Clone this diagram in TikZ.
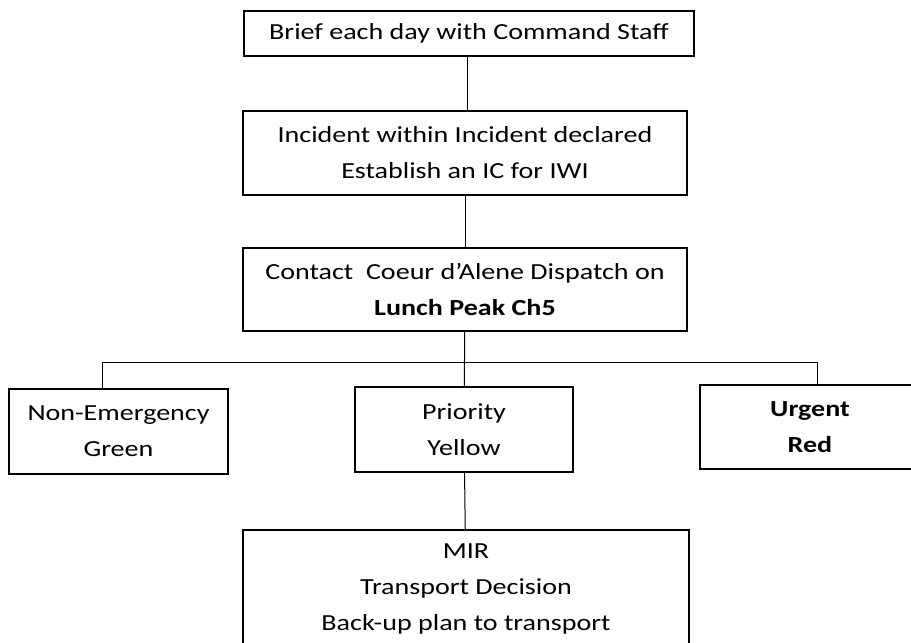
\documentclass[tikz,border=0pt]{standalone}
\usepackage{fontspec}
\setmainfont{Carlito}[FakeStretch=1.22]
\begin{document}
\begin{tikzpicture}[x=1pt,y=-1pt,
  box/.style={draw=black, line width=1.6pt, inner sep=0pt, align=center,
    font=\fontsize{23}{36}\selectfont},
  link/.style={draw=black, line width=1pt}]
\useasboundingbox[fill=white] (0,0) rectangle (911,643);
\node[box, minimum width=450pt, minimum height=45pt] (brief) at (469,33.5)
  {Brief each day with Command Staff};
\node[box, minimum width=444pt, minimum height=84pt] (iwi) at (465,153)
  {Incident within Incident declared\\Establish an IC for IWI};
\node[box, minimum width=444pt, minimum height=83pt] (contact) at (465,289.5)
  {Contact\ \ Coeur d’Alene Dispatch on\\{\bfseries Lunch Peak Ch5}};
\node[box, minimum width=219pt, minimum height=85pt] (green) at (118.5,431.5)
  {Non-Emergency\\Green};
\node[box, minimum width=218pt, minimum height=85pt] (yellow) at (464,429.5)
  {Priority\\Yellow};
\node[box, minimum width=220pt, minimum height=84pt] (red) at (810,427)
  {\bfseries Urgent\\\bfseries Red};
\node[box, minimum width=446pt, minimum height=118pt] (mir) at (466,589)
  {MIR\\Transport Decision\\Back-up plan to transport};
\coordinate (busL) at (102,362);
\coordinate (busR) at (817,362);
\draw[link] (brief.south -| 467,0) -- (iwi.north -| 467,0);
\draw[link] (iwi) -- (contact);
\draw[link] (contact) -- (yellow);
\draw[link] (green.north -| busL) |- (busR) -- (red.north -| busR);
\draw[link] (yellow) -- (mir);
\end{tikzpicture}
\end{document}
